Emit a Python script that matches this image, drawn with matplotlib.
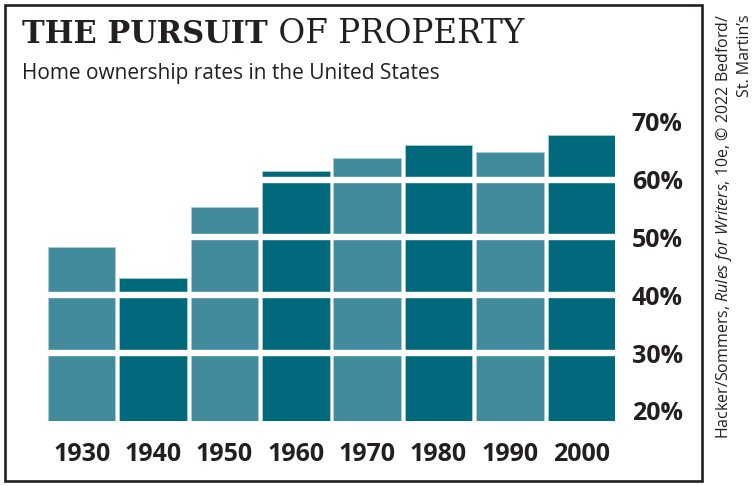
import matplotlib
matplotlib.use("Agg")
import matplotlib.pyplot as plt
from matplotlib.patches import Rectangle

# home ownership rate by census year
years = ["1930", "1940", "1950", "1960", "1970", "1980", "1990", "2000"]
rates = [48.3, 42.9, 55.2, 61.5, 63.8, 66.0, 64.8, 67.7]
ticks = [20, 30, 40, 50, 60, 70]
tick_labels = ["20%", "30%", "40%", "50%", "60%", "70%"]

LIGHT = "#428b9d"
DARK = "#00697c"
INK = "#231f20"

plt.rcParams["mathtext.fontset"] = "custom"
plt.rcParams["mathtext.rm"] = "Open Sans"
plt.rcParams["mathtext.it"] = "Open Sans:italic"

W, H = 755, 486
fig = plt.figure(figsize=(W / 100, H / 100), dpi=100)
ax = fig.add_axes([48 / W, (H - 420.7) / H, 567 / W, (420.7 - 116) / H])

colors = [LIGHT if i % 2 == 0 else DARK for i in range(len(years))]
ax.bar(range(len(years)), rates, width=0.945, color=colors,
       edgecolor="#a9cdd5", linewidth=0.6, zorder=2)

# white bands cut each bar into blocks
for v in ticks[1:-1]:
    ax.axhline(v, color="white", lw=4.6, zorder=3)

ax.set_xlim(-0.4725, len(years) - 0.5275)
ax.set_ylim(18.3, 71)
ax.set_xticks(range(len(years)))
ax.set_xticklabels(years, fontfamily="Open Sans", fontweight="bold",
                   fontsize=18, color=INK)
ax.set_yticks(ticks)
ax.set_yticklabels(tick_labels, fontfamily="Open Sans", fontweight="bold",
                   fontsize=18, color=INK)
ax.yaxis.tick_right()
ax.tick_params(axis="x", length=0, pad=15)
ax.tick_params(axis="y", length=0, pad=12)
for s in ax.spines.values():
    s.set_visible(False)

# frame around the chart
fig.patches.append(Rectangle((4.5 / W, (H - 481) / H), (701.5 - 4.5) / W,
                             (481 - 5) / H, transform=fig.transFigure,
                             fill=False, lw=1.9, edgecolor=INK))

t1 = fig.text(22 / W, 1 - 43 / H, "THE PURSUIT", fontfamily="DejaVu Serif",
              fontweight="bold", fontsize=22, color=INK, va="baseline")
fig.canvas.draw()
x_end = t1.get_window_extent().x1
fig.text(x_end / W, 1 - 43 / H, " OF PROPERTY", fontfamily="DejaVu Serif",
         fontsize=23.5, color=INK, va="baseline")
fig.text(22 / W, 1 - 79 / H, "Home ownership rates in the United States",
         fontfamily="Open Sans", fontsize=15, color=INK, va="baseline")

fig.text(724 / W, 1 - 14 / H,
         r"Hacker/Sommers, $\it{Rules\ for\ Writers}$, 10e, © 2022 Bedford/",
         rotation=90, ha="center", va="top", fontfamily="Open Sans",
         fontsize=11.5, color=INK)
fig.text(745 / W, 1 - 14 / H, "St. Martin\u2019s", rotation=90,
         ha="center", va="top", fontfamily="Open Sans", fontsize=11.5,
         color=INK)

fig.savefig("out.png", dpi=100)
